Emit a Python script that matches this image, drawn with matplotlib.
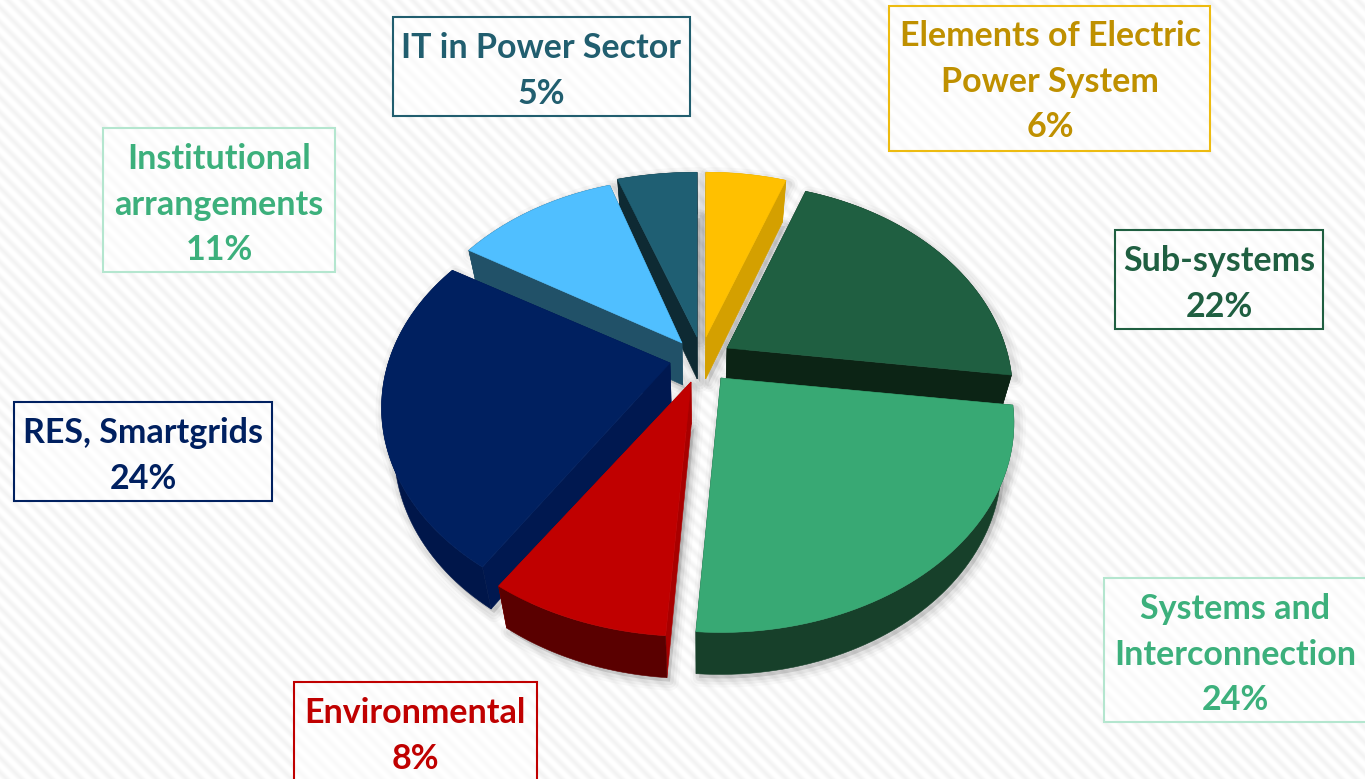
import numpy as np
import matplotlib
matplotlib.use("Agg")
import matplotlib.pyplot as plt
from matplotlib.patches import Polygon, Rectangle

# slice order runs clockwise from 12 o'clock
categories = ["Elements of Electric\nPower System", "Sub-systems", "Systems and\nInterconnection",
              "Environmental", "RES, Smartgrids", "Institutional\narrangements", "IT in Power Sector"]
percent_labels = ["6%", "22%", "24%", "8%", "24%", "11%", "5%"]
# unrounded shares
shares = [5.5, 21.6, 24.0, 8.1, 24.4, 11.3, 5.1]

# colours: top face, radial wall, outer wall
top_cols = ["#FFC000", "#1F5F41", "#38A974", "#C00000", "#002060", "#50BFFF", "#1F5F73"]
side_cols = ["#D4A000", "#0C2415", "#17402A", "#A80000", "#001850", "#215168", "#0E2A33"]
rim_cols = ["#D4A000", "#0C2415", "#17402A", "#5A0000", "#00164A", "#215168", "#0E2A33"]
text_cols = ["#BF9000", "#1F5F41", "#3CB07C", "#C00000", "#002060", "#3CB07C", "#215E6F"]
edge_cols = ["#EDBB10", "#1F5F41", "#B4E6CF", "#C00000", "#002060", "#B4E6CF", "#215E6F"]

# exploded apex of every slice, pixels, and horizontal squeeze of its radius
tips = [(706, 337), (727, 348), (721, 378), (691, 382), (670, 363), (682, 343), (697, 337)]
squeeze = [0.98, 0.965, 0.99, 1.0, 0.975, 0.955, 1.05]
# label boxes: left, top, right, bottom, first line y
boxes = [(889, 6, 1210, 151, 36), (1115, 230, 1323, 329, 261), (1104, 578, 1370, 722, 609),
         (294, 682, 537, 790, 713), (14, 402, 272, 501, 433), (103, 128, 335, 272, 159),
         (393, 17, 690, 116, 48)]
box_centers = [1050, 1219, 1235, 415, 143, 219, 541]
draw_order = [6, 0, 5, 1, 4, 3, 2]

RX, RY, PERSP = 289.0, 200.0, 0.214
DEPTH, SHRINK, MIDX = 42.0, 0.96, 700.0
LINE_H = 45.7


def top_point(theta, tip, sq):
    u, v = np.sin(theta), np.cos(theta)
    s = 1 + PERSP * v
    return tip[0] + sq * RX * u / s, tip[1] - RY * v / s


def drop(pts):
    pts = np.asarray(pts, dtype=float)
    return np.column_stack([MIDX + (pts[:, 0] - MIDX) * SHRINK, pts[:, 1] + DEPTH])


def fill(ax, pts, col):
    ax.add_patch(Polygon(pts, closed=True, fc=col, ec=col, lw=0.4))


fig = plt.figure(figsize=(13.65, 7.79), dpi=100)
ax = fig.add_axes([0, 0, 1, 1])
ax.set_xlim(0, 1365)
ax.set_ylim(779, 0)
ax.axis("off")

# diagonal stripes of the slide background
yy, xx = np.mgrid[0:779, 0:1365]
stripes = 0.978 + 0.022 * np.cos(2 * np.pi * (xx - yy) / 15.0)
ax.imshow(stripes, cmap="gray", vmin=0, vmax=1, extent=(0, 1365, 779, 0), aspect="auto", zorder=0)

# slice geometry
edges = np.concatenate([[0], np.cumsum(shares)]) / np.sum(shares) * 2 * np.pi
arcs, faces, lowers = [], [], []
for i in range(len(shares)):
    th = np.linspace(edges[i], edges[i + 1], 60)
    arc = np.array([top_point(t, tips[i], squeeze[i]) for t in th])
    face = np.vstack([[tips[i]], arc])
    arcs.append(arc)
    faces.append(face)
    lowers.append(drop(face))

# soft shadow first so that it stays beneath all slices
for i in range(len(shares)):
    for lw, a in [(13, 0.025), (9, 0.035), (5, 0.045)]:
        for pts in (faces[i], lowers[i]):
            ax.add_patch(Polygon(pts + np.array([3, 4]), closed=True, fc="none",
                                 ec=(0, 0, 0, a), lw=lw, joinstyle="round", zorder=1))
    ax.add_patch(Polygon(lowers[i] + np.array([3, 4]), closed=True, fc=(0, 0, 0, 0.12), ec="none", zorder=1))

for i in draw_order:
    arc, face = arcs[i], faces[i]
    tip = np.array(tips[i], dtype=float)
    for end in (arc[0], arc[-1]):
        fill(ax, np.vstack([tip, end, drop([end]), drop([tip])]), side_cols[i])
    fill(ax, np.vstack([arc, drop(arc)[::-1]]), rim_cols[i])
    fill(ax, face, top_cols[i])

# label boxes
for i, name in enumerate(categories):
    l, t, r, b, y0 = boxes[i]
    ax.add_patch(Rectangle((l, t), r - l, b - t, fc=(1, 1, 1, 0.55), ec=edge_cols[i], lw=1.5, zorder=5))
    lines = name.split("\n") + [percent_labels[i]]
    for j, line in enumerate(lines):
        ax.text(box_centers[i], y0 + j * LINE_H, line, color=text_cols[i], fontsize=24.5,
                fontfamily="Lato", fontweight="bold", ha="center", va="center", zorder=6)

fig.savefig("out.png", dpi=100)
